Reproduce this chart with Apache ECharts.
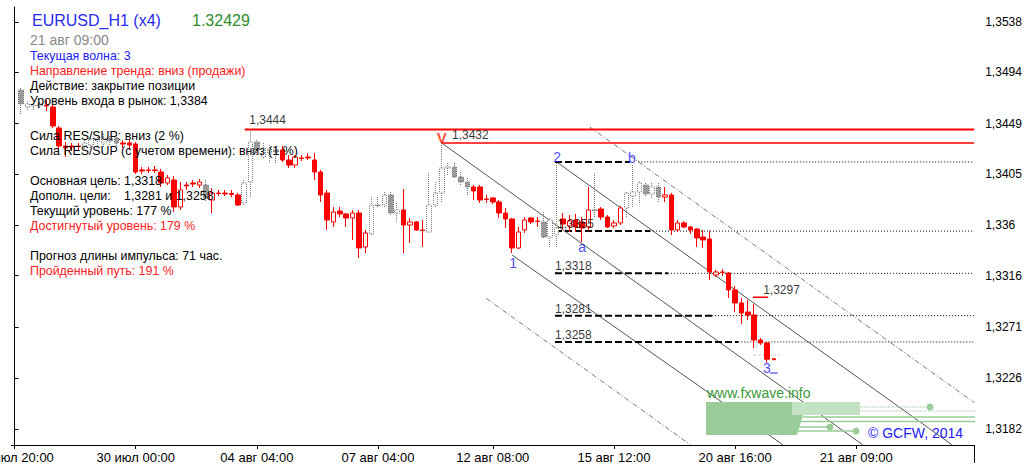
<!DOCTYPE html>
<html><head><meta charset="utf-8">
<script src="https://cdn.jsdelivr.net/npm/echarts@6/dist/echarts.min.js"></script>
<style>html,body{margin:0;padding:0;background:#fff}#c{width:1031px;height:475px}</style>
</head><body><div id="c"></div>
<script>
// ---------- DATA ----------
const opens = [1.34785,1.34636,1.34645,1.34645,1.34653,1.34636,1.34452,1.34295,1.34295,1.34295,
1.34295,1.34303,1.34338,1.34321,1.34356,1.34365,1.34321,1.34321,1.34312,1.34085,
1.34080,1.34085,1.34067,1.33971,1.33997,1.33761,1.33953,1.33971,1.33953,1.33953,
1.33822,1.33883,1.33883,1.33879,1.33866,1.33796,1.33980,1.34330,1.34198,1.34233,
1.34260,1.34260,1.34172,1.34128,1.34190,1.34198,1.34172,1.34067,1.33883,1.33630,
1.33726,1.33700,1.33665,1.33708,1.33411,1.33525,1.33778,1.33778,1.33866,1.33708,
1.33735,1.33603,1.33630,1.33560,1.33542,1.33778,1.33883,1.34102,1.34111,1.34023,
1.33980,1.33936,1.33936,1.33831,1.33840,1.33805,1.33708,1.33656,1.33402,1.33560,
1.33665,1.33638,1.33630,1.33498,1.33516,1.33656,1.33595,1.33647,1.33630,1.33586,
1.33735,1.33743,1.33673,1.33595,1.33621,1.33752,1.33857,1.33892,1.33953,1.33875,
1.33936,1.33848,1.33866,1.33560,1.33621,1.33586,1.33568,1.33498,1.33481,1.33166,
1.33192,1.33183,1.33035,1.32921,1.32842,1.32816,1.32597,1.32571];
const closes = [1.34662,1.34662,1.34653,1.34662,1.34645,1.34470,1.34295,1.34277,1.34286,1.34290,
1.34321,1.34356,1.34356,1.34365,1.34338,1.34321,1.34312,1.34303,1.34067,1.34076,
1.34085,1.34080,1.33971,1.34015,1.33761,1.33910,1.33945,1.33962,1.33980,1.33840,
1.33883,1.33879,1.33875,1.33870,1.33778,1.33971,1.34330,1.34260,1.34277,1.34268,
1.34242,1.34172,1.34128,1.34198,1.34185,1.34190,1.34067,1.33866,1.33647,1.33717,
1.33700,1.33665,1.33708,1.33402,1.33533,1.33778,1.33774,1.33866,1.33708,1.33735,
1.33603,1.33630,1.33560,1.33555,1.33778,1.33883,1.34102,1.34111,1.34023,1.33980,
1.33936,1.33901,1.33822,1.33826,1.33805,1.33708,1.33656,1.33402,1.33542,1.33647,
1.33630,1.33634,1.33498,1.33647,1.33577,1.33612,1.33638,1.33586,1.33577,1.33735,
1.33730,1.33673,1.33586,1.33621,1.33752,1.33883,1.33892,1.33971,1.33875,1.33936,
1.33848,1.33866,1.33560,1.33621,1.33586,1.33560,1.33490,1.33472,1.33192,1.33192,
1.33188,1.33035,1.32921,1.32833,1.32816,1.32597,1.32571,1.32429];
const lows = [1.34575,1.34610,1.34610,1.34627,1.34601,1.34452,1.34268,1.34198,1.34251,1.34260,
1.34268,1.34277,1.34295,1.34286,1.34303,1.34295,1.34277,1.34260,1.34050,1.34050,
1.34058,1.34058,1.33936,1.33953,1.33717,1.33735,1.33910,1.33936,1.33927,1.33813,
1.33708,1.33857,1.33857,1.33848,1.33770,1.33778,1.33848,1.34216,1.34190,1.34146,
1.34146,1.34155,1.34102,1.34102,1.34163,1.34172,1.33997,1.33805,1.33560,1.33586,
1.33673,1.33586,1.33472,1.33315,1.33358,1.33516,1.33761,1.33761,1.33691,1.33630,
1.33358,1.33446,1.33551,1.33411,1.33542,1.33761,1.33805,1.34041,1.34015,1.33953,
1.33866,1.33822,1.33796,1.33796,1.33787,1.33665,1.33577,1.33358,1.33393,1.33533,
1.33612,1.33586,1.33490,1.33411,1.33411,1.33560,1.33542,1.33542,1.33455,1.33560,
1.33673,1.33647,1.33577,1.33577,1.33603,1.33673,1.33761,1.33796,1.33857,1.33840,
1.33805,1.33805,1.33516,1.33542,1.33577,1.33525,1.33411,1.33402,1.33122,1.33148,
1.33157,1.32965,1.32842,1.32737,1.32772,1.32527,1.32553,1.32396];
const highs = [1.34802,1.34688,1.34671,1.34680,1.34697,1.34662,1.34470,1.34330,1.34321,1.34321,
1.34347,1.34382,1.34373,1.34400,1.34382,1.34391,1.34347,1.34347,1.34330,1.34111,
1.34111,1.34120,1.34094,1.34041,1.34032,1.33980,1.33980,1.33997,1.34006,1.33997,
1.33927,1.33910,1.33910,1.33910,1.33883,1.33997,1.34440,1.34347,1.34321,1.34303,
1.34286,1.34295,1.34216,1.34216,1.34216,1.34233,1.34233,1.34085,1.33910,1.33761,
1.33761,1.33708,1.33735,1.33735,1.33560,1.33848,1.33848,1.33892,1.33892,1.33796,
1.33918,1.33665,1.33638,1.33647,1.34058,1.33980,1.34320,1.34146,1.34146,1.34067,
1.34015,1.33953,1.33953,1.33866,1.33845,1.33822,1.33752,1.33665,1.33586,1.33673,
1.33673,1.33673,1.33717,1.33665,1.34146,1.33708,1.33691,1.33700,1.33673,1.33936,
1.34058,1.33761,1.33691,1.33647,1.33770,1.33892,1.34128,1.33985,1.33971,1.33971,
1.33971,1.33936,1.33883,1.33647,1.33638,1.33595,1.33577,1.33560,1.33551,1.33210,
1.33218,1.33192,1.33070,1.32965,1.32947,1.32912,1.32615,1.32580];
// r = red (impulse) candle, g = grey (correction) candle; one letter per candle
const tones = ('ggggrrrrrr' + 'ggggggrrrr' + 'rrrrrrrrrg' + 'rrrrrggggg' + 'grrrrrrrrr' +
               'rrrrrggggg' + 'rrrrgggggg' + 'grrrrrrrrr' + 'rrgggrrrrr' + 'grrrrggggg' +
               'grrrrrrrrr' + 'rrrrrrrr').split('');

const tickSlots = [0, 19, 38, 57, 75, 94, 113, 132];
const tickTexts = ['24 июл 20:00','30 июл 00:00','04 авг 04:00','07 авг 04:00','12 авг 08:00','15 авг 12:00','20 авг 16:00','21 авг 09:00'];
const priceTicks = [1.3182, 1.3226, 1.3271, 1.3316, 1.336, 1.3405, 1.3449, 1.3494, 1.3538];

const resistance = 1.3444;
const topV = 1.3432;
const lastPrice = 1.32429;
const stopLevel = 1.3297;
const askLevel = 1.32466;
const levelPrices = [1.34155, 1.3355, 1.3318, 1.3281, 1.3258];
const levelLabels = ['', '1,3355', '1,3318', '1,3281', '1,3258'];
const levelDashEnd = [96.5, 99.65, 102.5, 109.4, 113.5];
const levelDotStart = [97.8, 99.65, 102.5, 109.4, 113.5];
const levelStart = 84.75;
// channel lines: [slot1, price1, slot2, price2]
const channelSolid = [[67.0, 1.3432, 133.0, 1.3168], [85.0, 1.34155, 147.0, 1.3168], [78.0, 1.33341, 120.5, 1.3168]];
const channelDashDot = [[90.2, 1.34461, 150.5, 1.32049], [74.0, 1.32960, 106.0, 1.3168]];
// wave labels [slot, price, text]
const waveLabels = [[78.2, 1.33271, '1'], [85.1, 1.34198, '2'], [89.0, 1.33411, 'a'], [96.8, 1.34190, 'b'], [118.0, 1.32352, '3']];

// ---------- CHART ----------
const N = 151;
const FONT = '"Liberation Sans", Arial, sans-serif';
const cats = Array.from({length: N}, () => '');
tickSlots.forEach((s, i) => cats[s] = tickTexts[i]);
const isTick = (i) => tickSlots.indexOf(i) >= 0;

function candleData(tone) {
  return Array.from({length: N}, (_, s) => {
    const k = s - 1;
    if (k < 0 || k >= opens.length || tones[k] !== tone) return '-';
    return [opens[k], closes[k], lows[k], highs[k]];
  });
}
function seg(x1, y1, x2, y2, ls, z) {
  return {type: 'line', xAxisIndex: 1, yAxisIndex: 0, data: [[x1, y1], [x2, y2]], symbol: 'none',
          silent: true, lineStyle: ls, z: z || 3, animation: false};
}
const fmt = v => String(v).replace('.', ',');

const series = [];
channelSolid.forEach(c => series.push(seg(c[0], c[1], c[2], c[3], {color: '#555', width: 1}, 1)));
channelDashDot.forEach(c => series.push(seg(c[0], c[1], c[2], c[3], {color: '#777', width: 1, type: [5, 2, 1, 2]}, 1)));
levelPrices.forEach((p, i) => {
  series.push(seg(levelStart, p, levelDashEnd[i], p, {color: '#000', width: 2, type: [7, 3]}, 2));
  series.push(seg(levelDotStart[i], p, 150.5, p, {color: '#000', width: 1, type: [1, 2]}, 2));
});
series.push(seg(36.1, resistance, 150.5, resistance, {color: '#ff0000', width: 2}, 4));
series.push(seg(67.0, topV, 150.5, topV, {color: '#ff0000', width: 1.5}, 4));
series.push(seg(115.8, stopLevel, 118.2, stopLevel, {color: '#ff0000', width: 1.5}, 4));
series.push(seg(115.8, askLevel, 120.0, askLevel, {color: '#c8c8c8', width: 1, type: [3, 2]}, 4));
series.push(seg(118.8, lastPrice, 119.4, lastPrice, {color: '#ff0000', width: 2}, 6));
series.push(seg(118.5, 1.32308, 119.7, 1.32308, {color: '#2020ff', width: 1}, 6));

series.push({type: 'candlestick', xAxisIndex: 0, yAxisIndex: 0, data: candleData('g'), barWidth: 5, z: 5,
  itemStyle: {color: '#ffffff', color0: '#9a9a9a', borderColor: '#7a7a7a', borderColor0: '#6a6a6a', borderWidth: 1, borderType: [1, 1]}});
series.push({type: 'candlestick', xAxisIndex: 0, yAxisIndex: 0, data: candleData('r'), barWidth: 5, z: 5,
  itemStyle: {color: '#ffffff', color0: '#ff0000', borderColor: '#ff0000', borderColor0: '#ff0000', borderWidth: 1}});

const priceLabels = [
  [36.8, resistance, fmt(resistance), -9],
  [68.6, topV, fmt(topV), -8],
  [117.4, stopLevel, fmt(stopLevel), -7.5]
];
levelPrices.forEach((p, i) => { if (levelLabels[i]) priceLabels.push([i === 1 ? 85.1 : levelStart, p, levelLabels[i], -7]); });
series.push({type: 'scatter', xAxisIndex: 1, yAxisIndex: 0, symbolSize: 0, silent: true, z: 8, animation: false,
  data: priceLabels.map(l => ({value: [l[0], l[1]], label: {show: true, position: 'right', distance: 0,
    offset: [0, l[3]], formatter: l[2], color: '#000', fontSize: 12, fontFamily: FONT}}))});
series.push({type: 'scatter', xAxisIndex: 1, yAxisIndex: 0, symbolSize: 0, silent: true, z: 8, animation: false,
  data: waveLabels.map(w => ({value: [w[0], w[1]], label: {show: true, position: 'inside', formatter: w[2],
    color: '#2020ff', fontSize: 14, fontFamily: FONT}}))
    .concat([{value: [67.0, 1.34373], label: {show: true, position: 'inside', formatter: 'V', color: '#ff2000',
      fontSize: 15, fontWeight: 'bold', fontFamily: FONT}}])});

const infoLines = [
  ['Текущая волна: 3', 55.5, '#2020ff'],
  ['Направление тренда: вниз (продажи)', 70.5, '#ff2020'],
  ['Действие: закрытие позиции', 85.5, '#000'],
  ['Уровень входа в рынок: 1,3384', 100.5, '#000'],
  ['Сила RES/SUP: вниз (2 %)', 135.5, '#000'],
  ['Сила RES/SUP (с учетом времени): вниз (1 %)', 150.5, '#000'],
  ['Основная цель: 1,3318', 180.5, '#000'],
  ['Дополн. цели:', 195.5, '#000'],
  ['Текущий уровень: 177 %', 210.5, '#000'],
  ['Достигнутый уровень: 179 %', 225.5, '#ff2020'],
  ['Прогноз длины импульса: 71 час.', 255.5, '#000'],
  ['Пройденный путь: 191 %', 270.5, '#ff2020']
];
const txt = (t, x, y, fill, size) => ({type: 'text', z: 100, silent: true,
  style: {text: t, x: x, y: y, fill: fill, fontSize: size, fontFamily: FONT, verticalAlign: 'middle', align: 'left'}});
const G = '#99cc99';
const graphics = [
  txt('EURUSD_H1 (x4)', 32, 20, '#2a2af0', 16),
  txt(lastPrice.toFixed(5), 192, 20, '#2e8b2e', 16),
  txt('21 авг 09:00', 30, 40, '#888888', 14),
  txt('1,3281 и 1,3258', 124, 195.5, '#000', 12.4),
  txt('www.fxwave.info', 707, 393, '#3a9a3a', 14),
  txt('© GCFW, 2014', 868, 433, '#2020ff', 14),
  {type: 'rect', z: 50, silent: true, shape: {x: 706, y: 402, width: 86, height: 33}, style: {fill: G}},
  {type: 'rect', z: 50, silent: true, shape: {x: 792, y: 402, width: 68, height: 13}, style: {fill: '#c4e2c4'}},
  {type: 'polygon', z: 50, silent: true, shape: {points: [[792, 415], [803, 415], [797, 435], [792, 435]]}, style: {fill: G}},
  {type: 'line', z: 50, silent: true, shape: {x1: 860, y1: 407, x2: 930, y2: 407}, style: {stroke: G, lineWidth: 1, lineDash: [1, 1]}},
  {type: 'line', z: 50, silent: true, shape: {x1: 860, y1: 411, x2: 975, y2: 411}, style: {stroke: G, lineWidth: 1, lineDash: [1, 1]}},
  {type: 'line', z: 50, silent: true, shape: {x1: 803, y1: 417, x2: 975, y2: 417}, style: {stroke: G, lineWidth: 1.5}},
  {type: 'line', z: 50, silent: true, shape: {x1: 800, y1: 421.5, x2: 975, y2: 421.5}, style: {stroke: G, lineWidth: 1.5}},
  {type: 'line', z: 50, silent: true, shape: {x1: 797, y1: 427, x2: 830, y2: 427}, style: {stroke: G, lineWidth: 1.5}},
  {type: 'line', z: 50, silent: true, shape: {x1: 797, y1: 431, x2: 856, y2: 431}, style: {stroke: G, lineWidth: 1.5}},
  {type: 'circle', z: 50, silent: true, shape: {cx: 930, cy: 407, r: 3.5}, style: {fill: G}},
  {type: 'circle', z: 50, silent: true, shape: {cx: 830, cy: 427, r: 3.5}, style: {fill: G}},
  {type: 'circle', z: 50, silent: true, shape: {cx: 856, cy: 431, r: 3.5}, style: {fill: G}},
  {type: 'line', z: 50, silent: true, shape: {x1: 974.5, y1: 445, x2: 974.5, y2: 463}, style: {stroke: '#000', lineWidth: 1}}
];
infoLines.forEach(l => graphics.push(txt(l[0], 30, l[1], l[2], 12.4)));

const chart = echarts.init(document.getElementById('c'), null, {renderer: 'svg', width: 1031, height: 475});
chart.setOption({
  animation: false,
  backgroundColor: '#ffffff',
  grid: {left: 11.4, top: 7, width: 962.8, height: 438, containLabel: false, outerBoundsMode: 'none'},
  xAxis: [
    {type: 'category', data: cats, boundaryGap: true,
     axisLine: {show: true, lineStyle: {color: '#000', width: 1}},
     axisTick: {show: true, interval: (i) => isTick(i), alignWithLabel: true, length: 4, lineStyle: {color: '#000'}},
     axisLabel: {interval: (i) => isTick(i), color: '#000', fontSize: 13, fontFamily: FONT, margin: 6, hideOverlap: false},
     splitLine: {show: false}},
    {type: 'value', min: -0.5, max: 150.5, show: false}
  ],
  yAxis: [{type: 'value', position: 'right', min: 1.31678, max: 1.35511, scale: true,
    axisLine: {show: true, lineStyle: {color: '#000', width: 1}},
    axisTick: {show: true, customValues: priceTicks, length: 4, lineStyle: {color: '#000'}},
    axisLabel: {customValues: priceTicks, formatter: v => fmt(v), color: '#000', fontSize: 12, fontFamily: FONT, margin: 11},
    splitLine: {show: false}}],
  series: series,
  graphic: graphics
});
</script></body></html>
